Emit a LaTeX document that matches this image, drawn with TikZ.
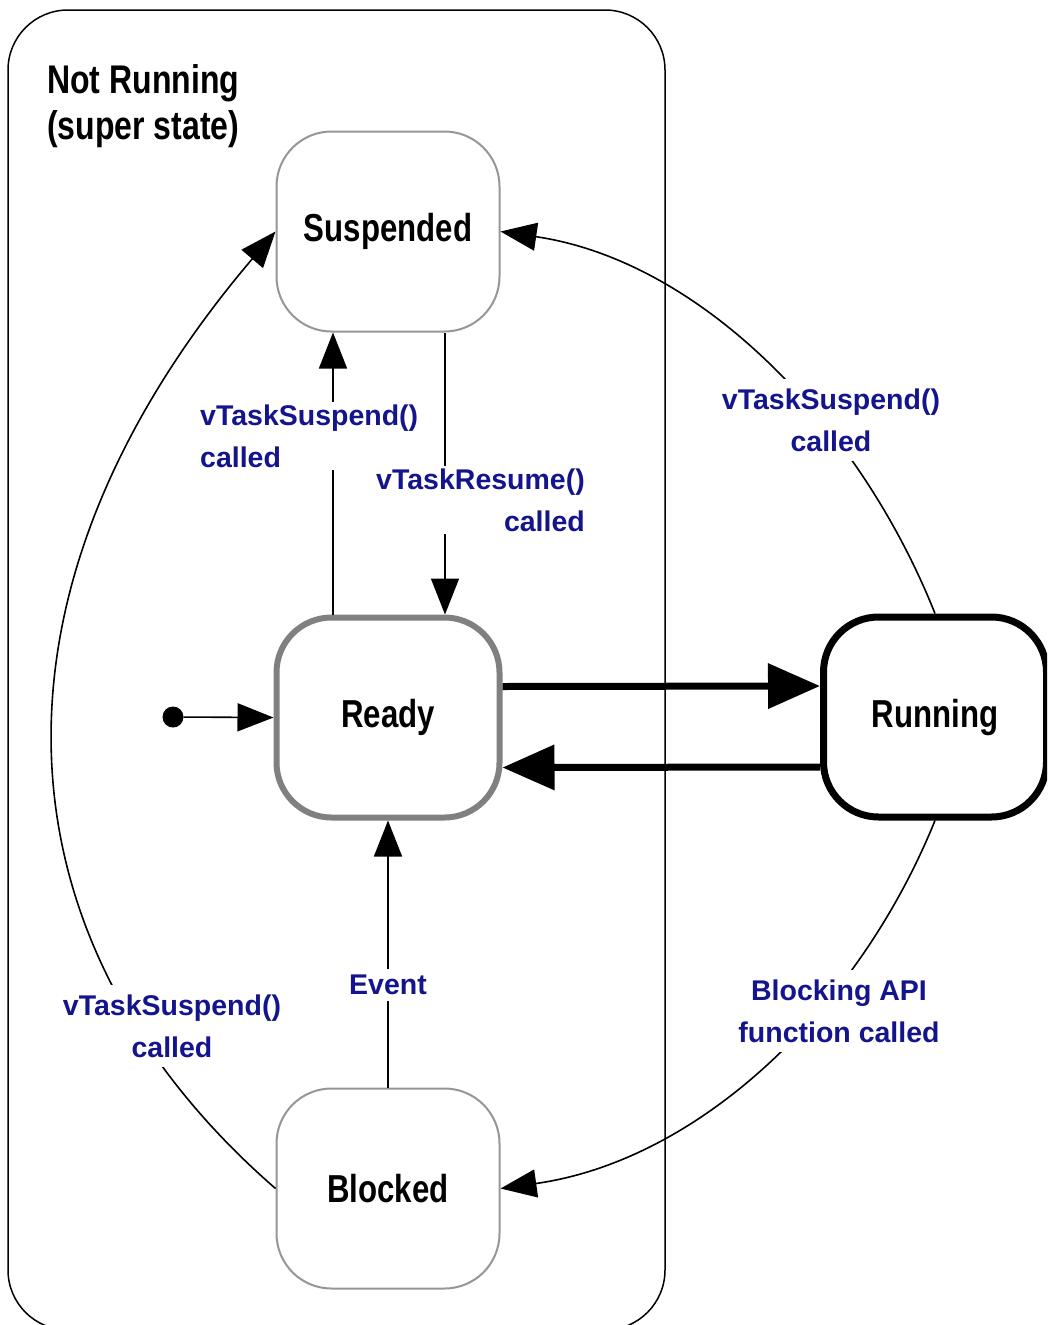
\documentclass[tikz,border=0pt]{standalone}
\usepackage{fontspec}
\setmainfont{Liberation Sans}
\newfontfamily\statefont{Liberation Sans}[FakeStretch=0.8]
\usetikzlibrary{arrows.meta, positioning, calc}
\definecolor{lblblue}{RGB}{20,20,140}
\definecolor{thingray}{RGB}{150,150,150}
\definecolor{readygray}{RGB}{128,128,128}

\begin{document}
\begin{tikzpicture}[x=1pt, y=-1pt,
    state/.style={draw=thingray, line width=2pt, fill=white, rounded corners=55pt,
        minimum width=223pt, minimum height=200pt, inner sep=0pt,
        font=\statefont\bfseries\fontsize{39}{40}\selectfont},
    lbl/.style={fill=white, inner sep=3pt, text=lblblue,
        font=\bfseries\fontsize{28.5}{42}\selectfont},
    trans/.style={line width=1.6pt, arrows={-Triangle[length=36pt, width=28pt]}},
    run/.style={line width=7pt, arrows={-Triangle[length=52pt, width=44pt]}}]

    \useasboundingbox (0,0) rectangle (1047,1325);
    \clip (0,0) rectangle (1047,1325);

    % super state
    \node[draw, line width=1.5pt, rounded corners=60pt, minimum width=657pt,
          minimum height=1320pt, inner sep=0pt] (NotRunning) at (336.5,670) {};
    \node[anchor=north west, align=left, inner sep=0pt,
          font=\statefont\bfseries\fontsize{40}{46}\selectfont] (title) at (47,64)
          {Not Running\\(super state)};

    % states
    \node[state] (Suspended) at (388,231.5) {Suspended};
    \node[state, draw=readygray, line width=6pt] (Ready) at (388,717.5) {Ready};
    \node[state] (Blocked) at (388,1188.5) {Blocked};
    \node[state, draw=black, line width=7pt] (Running) at (935,717) {Running};

    \node[circle, fill=black, inner sep=0pt, minimum size=21pt] (init) at (173,717) {};

    %%%%%%%%%%%%%%%%%%%%%%%%%%%%%%%%%%%%%%%%%%%%%%%%%%%%%%%%%%%%%
    \draw[trans] (init) -- (Ready.west);
    \draw[trans] ([xshift=-55pt]Ready.north) -- ([xshift=-55pt]Suspended.south);
    \draw[trans] ([xshift=57pt]Suspended.south) -- ([xshift=57pt]Ready.north);
    \draw[trans] (Blocked.north) -- (Ready.south);

    \draw[run] ([yshift=31pt]Ready.east) -- ([yshift=31pt]Running.west);
    \draw[run] ([yshift=-50pt]Running.west) -- ([yshift=-50pt]Ready.east);

    \draw[trans] (Running.north) .. controls +(-77,-193) and +(198,29) .. (Suspended.east);
    \draw[trans] (Running.south) .. controls +(-77,190) and +(198,-28) .. (Blocked.east);
    \draw[trans] (Blocked.west) .. controls +(-285,-248) and +(-305,359) .. (Suspended.west);

    % labels
    \node[lbl, anchor=west, align=left] (lblSusp) at (197,436) {vTaskSuspend()\\called};
    \node[lbl, anchor=east, align=right] (lblResume) at (588,500) {vTaskResume()\\called};
    \node[lbl, align=center, inner sep=10pt] (lblRunSusp) at (831,420) {vTaskSuspend()\\called};
    \node[lbl, align=center, inner sep=10pt] (lblBlocking) at (839,1011) {Blocking API\\function called};
    \node[lbl, inner sep=6pt] (lblEvent) at (388,985) {Event};
    \node[lbl, align=center, inner sep=10pt] (lblBlkSusp) at (172,1026) {vTaskSuspend()\\called};

\end{tikzpicture}
\end{document}
